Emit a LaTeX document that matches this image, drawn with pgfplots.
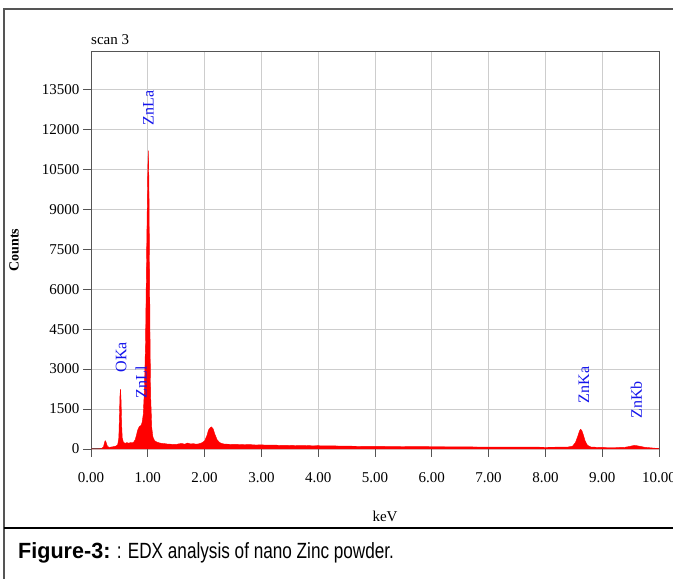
\documentclass[border=0pt]{standalone}
\usepackage{pgfplots}
\pgfplotsset{compat=1.18}
\usepackage{fontspec}
\setmainfont{Liberation Serif}
\newfontfamily\capfont[FakeStretch=0.78]{Liberation Sans}
\newfontfamily\capbold[FakeStretch=0.98]{Liberation Sans}
\definecolor{frame}{RGB}{85,85,85}
\definecolor{gridc}{RGB}{205,205,205}
\definecolor{lblue}{RGB}{20,20,235}
\begin{document}
\begin{tikzpicture}
\useasboundingbox (0pt,0pt) rectangle (673pt,579pt);
\draw[frame,line width=1.6pt] (4pt,-2pt) -- (4pt,570pt) -- (690pt,570pt);
\draw[black,line width=2.2pt] (4pt,51pt) -- (690pt,51pt);
\node[anchor=west,font=\fontsize{22}{25}\selectfont,inner sep=0] at (18pt,26pt) {{\capbold\bfseries Figure-3:}\capfont{} : EDX analysis of nano Zinc powder.};
\node[anchor=west,font=\fontsize{15}{17}\selectfont,inner sep=0] at (91pt,539pt) {scan 3};
\node[rotate=90,font=\bfseries\fontsize{14}{16}\selectfont,inner sep=0] at (14pt,329pt) {Counts};
\node[font=\fontsize{15}{17}\selectfont,inner sep=0] at (385pt,63pt) {keV};
\begin{axis}[at={(91pt,130pt)},anchor=south west,scale only axis,width=568pt,height=397pt,
  xmin=0,xmax=10,ymin=0,ymax=14900,
  scaled x ticks=false,scaled y ticks=false,
  xtick={0,1,...,10},ytick={0,1500,...,13500},
  xticklabels={0.00,1.00,2.00,3.00,4.00,5.00,6.00,7.00,8.00,9.00,10.00},
  yticklabels={0,1500,3000,4500,6000,7500,9000,10500,12000,13500},
  xtick pos=bottom,ytick pos=left,
  tick align=outside,major tick length=8pt,
  tick style={frame,line width=0.9pt},
  tick label style={font=\fontsize{15}{17}\selectfont},
  xticklabel style={yshift=-12pt},
  grid=major,grid style={gridc,line width=0.9pt},
  axis line style={frame,line width=1pt},
  clip=false]
\addplot[draw=red,fill=red,line width=0.4pt] coordinates {
(0.00,0) (0.10,0) (0.18,5) (0.22,80) (0.24,260) (0.25,310) (0.26,290) (0.27,220) (0.29,100)
(0.32,60) (0.36,75) (0.40,90) (0.44,110) (0.47,160) (0.49,420) (0.50,1200) (0.51,2000)
(0.52,2250) (0.53,1800) (0.54,900) (0.55,420) (0.57,260) (0.60,210) (0.63,240) (0.66,220)
(0.70,240) (0.73,230) (0.76,280) (0.78,360) (0.80,520) (0.82,700) (0.84,800) (0.86,860)
(0.88,880) (0.90,1000) (0.92,1300) (0.94,2200) (0.96,4000) (0.98,7500) (1.00,10500)
(1.01,11200) (1.02,10000) (1.03,7000) (1.04,4000) (1.05,2000) (1.07,800) (1.09,450)
(1.12,310) (1.16,260) (1.20,230) (1.25,210) (1.30,200) (1.35,185) (1.40,180) (1.45,175)
(1.50,170) (1.55,195) (1.60,205) (1.65,180) (1.70,225) (1.75,190) (1.80,200) (1.85,180)
(1.90,195) (1.95,230) (2.00,300) (2.04,500) (2.07,720) (2.10,800) (2.12,830) (2.15,760)
(2.18,560) (2.22,350) (2.26,250) (2.30,205) (2.35,185) (2.40,180) (2.50,175) (2.60,170)
(2.70,160) (2.80,165) (2.90,150) (3.00,155) (3.10,145) (3.20,150) (3.30,140) (3.40,135)
(3.50,140) (3.60,130) (3.70,125) (3.80,130) (3.90,120) (4.00,125) (4.10,115) (4.20,120)
(4.40,110) (4.60,105) (4.80,100) (5.00,100) (5.20,95) (5.40,95) (5.60,90) (5.80,90)
(6.00,85) (6.20,85) (6.40,80) (6.60,80) (6.80,75) (7.00,75) (7.20,70) (7.40,72) (7.60,68)
(7.80,70) (8.00,65) (8.20,68) (8.40,75) (8.48,110) (8.53,250) (8.57,480) (8.60,680)
(8.62,740) (8.64,700) (8.67,520) (8.70,300) (8.74,140) (8.80,75) (8.90,65) (9.00,60)
(9.10,55) (9.20,55) (9.30,58) (9.40,65) (9.48,95) (9.53,120) (9.57,135) (9.62,120)
(9.68,95) (9.75,65) (9.85,45) (9.95,25) (10.00,15)
} \closedcycle;
\begin{scope}[every node/.style={rotate=90,text=lblue,font=\fontsize{16}{18}\selectfont,inner sep=0}]
\node at (axis cs:1.01,12790) {ZnLa};
\node at (axis cs:0.53,3450) {OKa};
\node at (axis cs:0.88,2510) {ZnLl};
\node at (axis cs:8.68,2400) {ZnKa};
\node at (axis cs:9.60,1840) {ZnKb};
\end{scope}
\end{axis}
\end{tikzpicture}
\end{document}
